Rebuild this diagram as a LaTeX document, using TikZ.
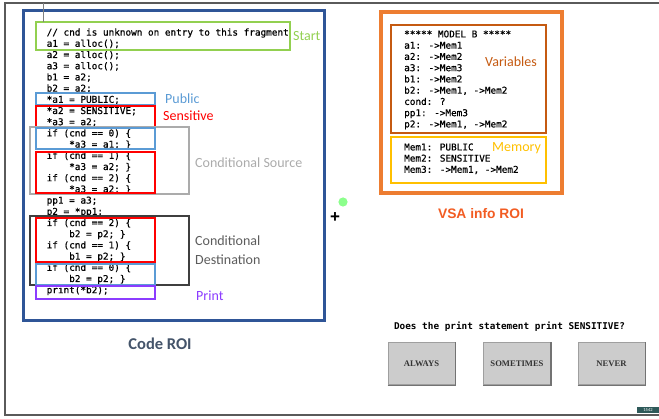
\documentclass[tikz,border=0pt]{standalone}
\usepackage{fontspec}
\setmainfont{Carlito}
\newfontfamily\codefont[FakeBold=0.6]{DejaVu Sans Mono}
\newfontfamily\qfont{DejaVu Sans Mono}
\newfontfamily\headfont{Liberation Sans}
\newfontfamily\btnfont{Liberation Serif}
\usetikzlibrary{positioning}
\definecolor{roiblue}{HTML}{2F5597}
\definecolor{roitext}{HTML}{44546A}
\definecolor{startgreen}{HTML}{92D050}
\definecolor{pubblue}{HTML}{5B9BD5}
\definecolor{sensred}{HTML}{FF0000}
\definecolor{srcgray}{HTML}{ABABAB}
\definecolor{dstgray}{HTML}{3F3F3F}
\definecolor{printpurple}{HTML}{8C3CFF}
\definecolor{vsaorange}{HTML}{ED7D31}
\definecolor{varorange}{HTML}{C55A11}
\definecolor{memgold}{HTML}{FFC000}
\definecolor{vsatitle}{HTML}{F25C22}
\definecolor{framegray}{HTML}{5A5A5A}
\definecolor{tagteal}{HTML}{2E5A5A}
\tikzstyle{code}=[anchor=base west,inner sep=0,font=\codefont\fontsize{9.35}{11}\selectfont]
\tikzstyle{tag}=[anchor=west,inner sep=0,font=\fontsize{14}{16}\selectfont]
\tikzstyle{hl}=[line width=1.2]
\tikzstyle{button}=[draw=gray!75,fill=gray!40,line width=1,minimum width=67,minimum height=42,inner sep=0,
  text=black!80,font=\btnfont\bfseries\fontsize{8.6}{10}\selectfont]
\newcommand{\ind}{\hphantom{xxxx}}

\begin{document}
\begin{tikzpicture}[x=1pt,y=-1pt]
  \useasboundingbox (0,0) rectangle (659,419);
  \def\lsep{11.2}
  % outer frame
  \draw[framegray,line width=1.5] (659,3) -- (5,3) -- (5,415) -- (659,415);
  % code ROI
  \draw[roiblue,line width=3] (23,11) rectangle (324,321);
  \node[font=\bfseries\fontsize{16.5}{18}\selectfont,text=roitext] (coderoi) at (160,344) {Code ROI};
  \foreach \ln [count=\i from 0] in {
      {// cnd is unknown on entry to this fragment},
      {a1 = alloc();}, {a2 = alloc();}, {a3 = alloc();},
      {b1 = a2;}, {b2 = a2;},
      {*a1 = PUBLIC;}, {*a2 = SENSITIVE;}, {*a3 = a2;},
      {if (cnd == 0) \{}, {\ind*a3 = a1; \}},
      {if (cnd == 1) \{}, {\ind*a3 = a2; \}},
      {if (cnd == 2) \{}, {\ind*a3 = a2; \}},
      {pp1 = a3;}, {p2 = *pp1;},
      {if (cnd == 2) \{}, {\ind b2 = p2; \}},
      {if (cnd == 1) \{}, {\ind b1 = p2; \}},
      {if (cnd == 0) \{}, {\ind b2 = p2; \}},
      {print(*b2);}}{
    \node[code] (line\i) at (46.5,{35.6+\i*\lsep}) {\ln};
  }
  % highlight boxes
  \foreach \c/\xa/\ya/\xb/\yb in {startgreen/36/22/290/50,
      pubblue/36/93/155/105, sensred/36/106/155/127,
      srcgray/30/127/189/194, pubblue/36/128/155/149, sensred/36/152/155/193,
      dstgray/30/216/189/285, sensred/36/218/155/262, pubblue/36/264/155/285,
      printpurple/36/286/155/299}{
    \draw[hl,\c] (\xa,\ya) rectangle (\xb,\yb);
  }
  \coordinate (tick) at (43,3);
  \coordinate (starttop) at (43,22);
  \draw[gray,line width=1] (tick) -- (starttop);
  \node[tag,text=startgreen] (start) at (293,36.5) {Start};
  \node[tag,text=pubblue] (public) at (165,99) {Public};
  \node[tag,text=sensred] (sensitive) at (163,116) {Sensitive};
  \node[tag,text=srcgray] (source) at (195,162.3) {Conditional Source};
  \node[tag,text=dstgray!85] (dest1) at (195,240.7) {Conditional};
  \node[tag,text=dstgray!85] (dest2) at (195,259.7) {Destination};
  \node[tag,text=printpurple] (print) at (196,295.7) {Print};
  % cursor marks
  \fill[green!45] (343,202) circle (4.6);
  \node[font=\headfont\bfseries\fontsize{17}{18}\selectfont] (cursor) at (335,218) {+};
  % VSA info ROI
  \draw[vsaorange,line width=4] (381,12) rectangle (562,193);
  \draw[varorange,line width=1.3] (391,25) rectangle (546,133);
  \draw[memgold,line width=1.3] (391,137) rectangle (546,183);
  \foreach \ln [count=\i from 0] in {
      {***** MODEL B *****}, {a1: ->Mem1}, {a2: ->Mem2}, {a3: ->Mem3},
      {b1: ->Mem2}, {b2: ->Mem1, ->Mem2}, {cond: ?}, {pp1: ->Mem3},
      {p2: ->Mem1, ->Mem2}}{
    \node[code] (var\i) at (404,{37.4+\i*11.25}) {\ln};
  }
  \foreach \ln [count=\i from 0] in {
      {Mem1: PUBLIC}, {Mem2: SENSITIVE}, {Mem3: ->Mem1, ->Mem2}}{
    \node[code] (mem\i) at (404,{150.4+\i*11.2}) {\ln};
  }
  \node[tag,text=varorange] (variables) at (485,62) {Variables};
  \node[tag,text=memgold] (memory) at (492,148) {Memory};
  \node[font=\headfont\bfseries\fontsize{13.8}{15}\selectfont,text=vsatitle] (vsaroi) at (481,214) {VSA info ROI};
  % question and answers
  \node[code,anchor=base,font=\qfont\bfseries\fontsize{9.35}{11}\selectfont] (question) at (509.5,329.4)
    {Does the print statement print SENSITIVE?};
  \foreach \lab/\xc in {ALWAYS/421.5,SOMETIMES/517,NEVER/611.5}{
    \node[button] (\lab) at (\xc,364) {\lab};
    \draw[gray!90!black,line width=1.2] (\lab.south west) -- (\lab.south east) -- (\lab.north east);
  }
  \node[fill=tagteal,text=white!80,inner sep=0.6,minimum width=22,minimum height=6,
    font=\fontsize{4.5}{5}\selectfont] (slide) at (648,410) {1542};
\end{tikzpicture}
\end{document}
